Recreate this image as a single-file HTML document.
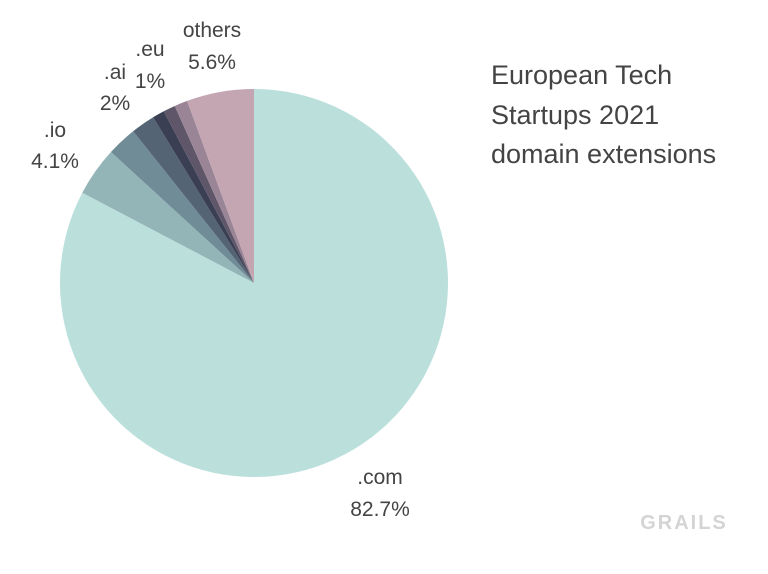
<!DOCTYPE html>
<html><head><style>
body{margin:0;background:#fff;width:768px;height:569px;overflow:hidden}
svg text{font-family:"Liberation Sans",sans-serif;fill:#444}
</style></head><body>
<svg id="s" width="768" height="569" viewBox="0 0 768 569">
<g id="pie"></g>
<g font-size="21" text-anchor="middle">
<text x="212" y="37">others</text><text x="212" y="69">5.6%</text>
<text x="150" y="56">.eu</text><text x="150" y="88">1%</text>
<text x="115" y="79">.ai</text><text x="115" y="110">2%</text>
<text x="55" y="137">.io</text><text x="55" y="168">4.1%</text>
<text x="380" y="484">.com</text><text x="380" y="516">82.7%</text>
</g>
<g font-size="27">
<text x="491" y="84">European Tech</text>
<text x="491" y="124">Startups 2021</text>
<text x="491" y="163">domain extensions</text>
</g>
<text x="684" y="529" font-size="20" font-weight="bold" text-anchor="middle" style="fill:#d4d4d4;letter-spacing:2px">GRAILS</text>
</svg>
<script>
var d=[[82.7,"#bbe0dc"],[4.1,"#93b5b8"],[2.5,"#6f8c97"],[2,"#546474"],[1,"#3a3f54"],[1,"#5f566a"],[1.1,"#9a8596"],[5.6,"#c4a6b3"]];
var cx=254,cy=283,r=194,a=0,h="";
d.forEach(function(s){var a2=a+s[0]*3.6;var p=function(t){t=t*Math.PI/180;return [cx+r*Math.sin(t),cy-r*Math.cos(t)]};
var p1=p(a),p2=p(a2);h+='<path d="M'+cx+','+cy+'L'+p1[0]+','+p1[1]+'A'+r+','+r+' 0 '+((a2-a)>180?1:0)+' 1 '+p2[0]+','+p2[1]+'Z" fill="'+s[1]+'"/>';a=a2;});
document.getElementById("pie").innerHTML=h;
</script>
</body></html>
